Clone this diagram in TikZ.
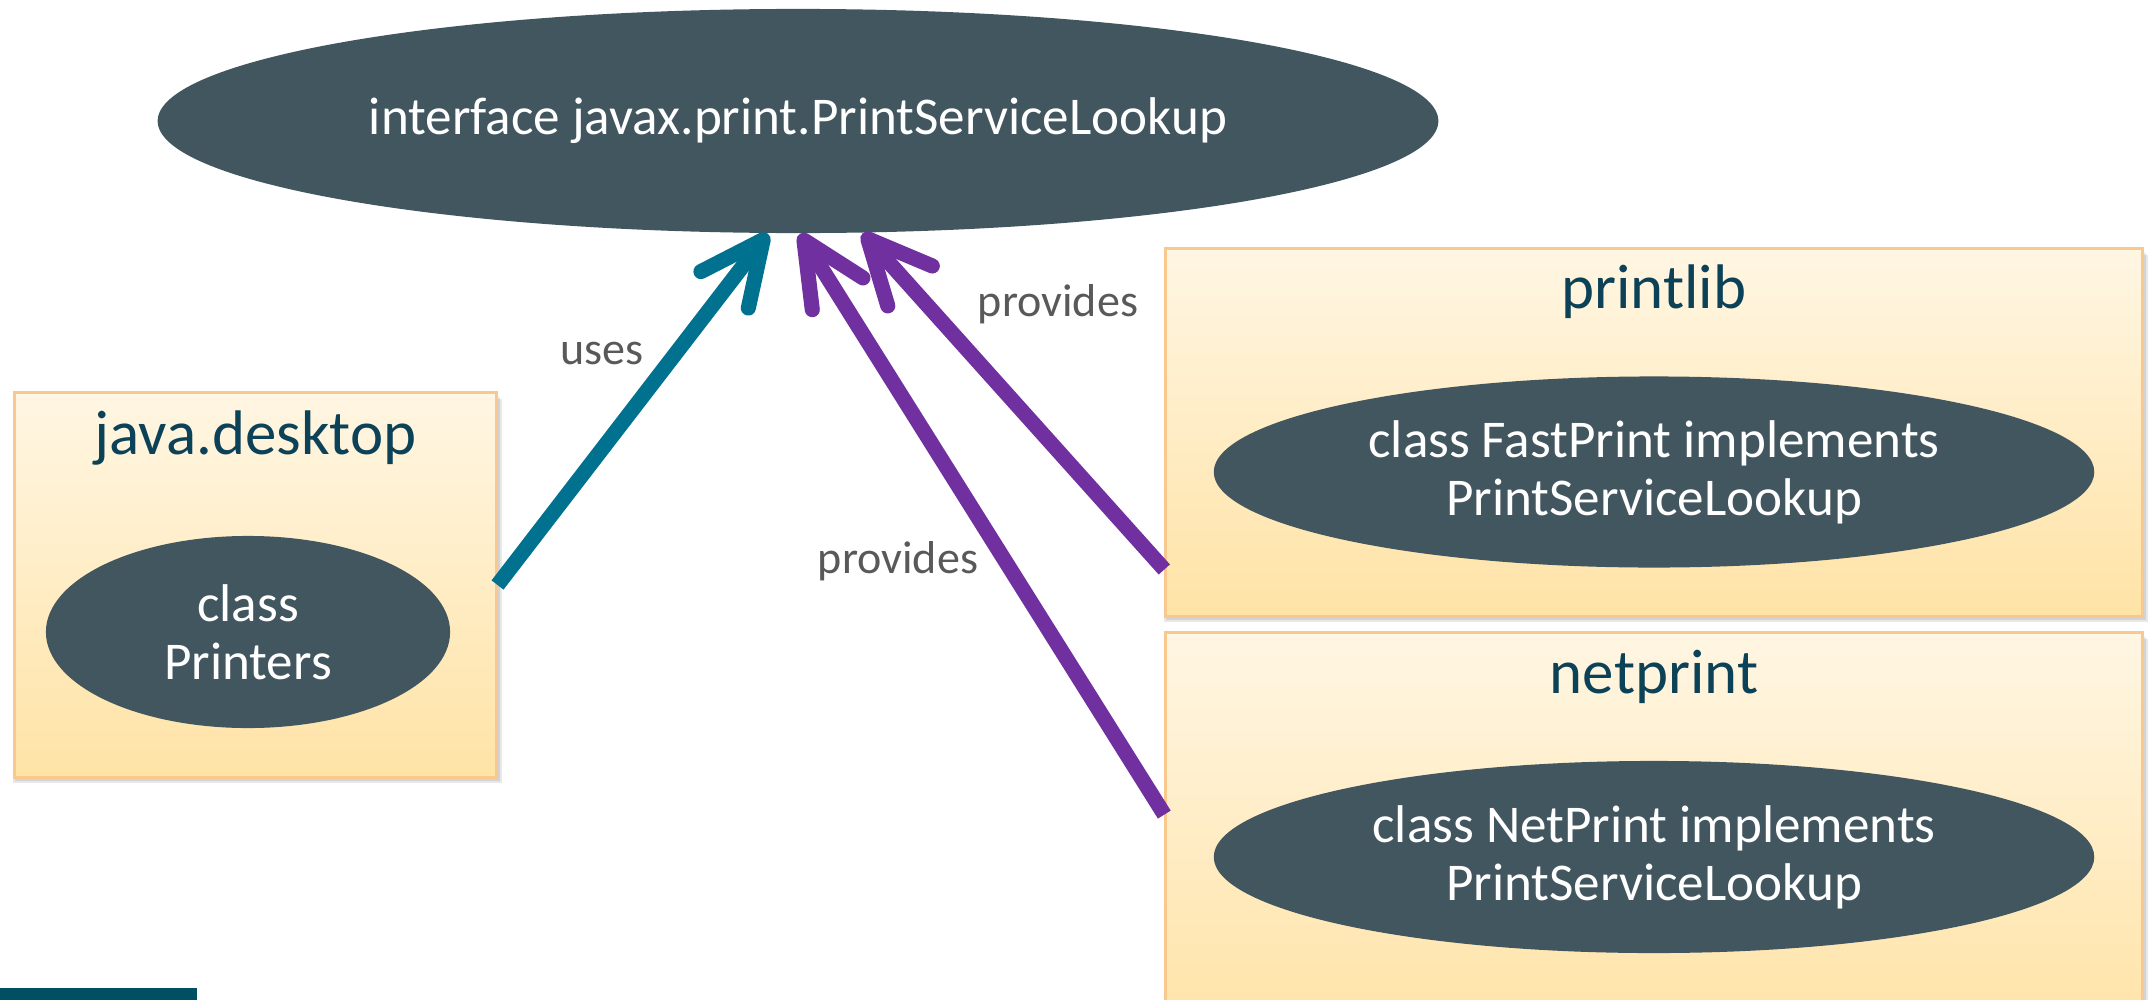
\documentclass[tikz,border=0pt]{standalone}
\usepackage{fontspec}
\setmainfont{Carlito}
\usetikzlibrary{shapes.geometric,arrows.meta}
\definecolor{ellfill}{HTML}{42565F}
\definecolor{usesclr}{HTML}{00718F}
\definecolor{provclr}{HTML}{7030A0}
\definecolor{boxtop}{HTML}{FFF6E3}
\definecolor{boxbot}{HTML}{FFE3A6}
\definecolor{boxline}{HTML}{F9C88E}
\definecolor{titleclr}{HTML}{0C4257}
\definecolor{lblclr}{HTML}{595959}
\definecolor{barclr}{HTML}{004F63}
\begin{document}
\begin{tikzpicture}[x=0.01cm,y=-0.01cm,
  modbox/.style={rectangle, draw=boxline, line width=0.8pt, top color=boxtop, bottom color=boxbot, inner sep=0pt},
  boxshadow/.style={fill=black, opacity=0.09},
  modtitle/.style={font=\fontsize{17.9}{21}\selectfont, text=titleclr, inner sep=0pt, anchor=base},
  cls/.style={ellipse, fill=ellfill, text=white, inner sep=0pt, align=center, font=\fontsize{15.1}{16.5}\selectfont},
  lbl/.style={text=lblclr, font=\fontsize{13.1}{15}\selectfont, inner sep=0pt, anchor=base},
  dep/.style={line width=4.3pt, -{Straight Barb[length=18pt,width=17pt,round]}}
]
\useasboundingbox (0,0) rectangle (2154,1000);
\clip (0,0) rectangle (2154,1000);

% soft shadows of the module boxes
\foreach \d in {2,4,6}{
  \fill[boxshadow] (15-\d+4,393+\d) rectangle (496+\d,777+\d);
  \fill[boxshadow] (1166-\d+4,249+\d) rectangle (2142+\d,616+\d);
  \fill[boxshadow] (1166-\d+4,633+\d) rectangle (2142+\d,1045);
}

% module boxes
\node[modbox, minimum width=4.81cm, minimum height=3.84cm] (jbox) at (255.5,585) {};
\node[modbox, minimum width=9.76cm, minimum height=3.67cm] (pbox) at (1654,432.5) {};
\node[modbox, minimum width=9.76cm, minimum height=4.07cm] (nbox) at (1654,836.5) {};

% titles
\node[modtitle] (jtitle) at ([yshift=-0.63cm]jbox.north) {java.desktop};
\node[modtitle] (ptitle) at ([yshift=-0.61cm]pbox.north) {printlib};
\node[modtitle] (ntitle) at ([yshift=-0.62cm]nbox.north) {netprint};

% class ellipses
\node[cls, minimum width=12.8cm, minimum height=2.24cm] (iface) at (798,121) {interface javax.print.PrintServiceLookup};
\node[cls, minimum width=4.04cm, minimum height=1.92cm] (printers) at (248,632) {class\\Printers};
\node[cls, minimum width=8.8cm, minimum height=1.91cm] (fast) at (1654,472) {class FastPrint implements\\PrintServiceLookup};
\node[cls, minimum width=8.8cm, minimum height=1.92cm] (net) at (1654,857) {class NetPrint implements\\PrintServiceLookup};

% connectors
\draw[dep, usesclr] (jbox.east) -- (iface.-105.5);
\draw[dep, provclr] ([yshift=0.48cm]pbox.south west) -- (iface.-60);
\draw[dep, provclr] ([yshift=-1.83cm]nbox.north west) -- (iface.-89);

% labels
\node[lbl] (luses) at (602,364) {uses};
\node[lbl] (lprov1) at (1058,316) {provides};
\node[lbl] (lprov2) at (898,573) {provides};

% bottom-left bar
\fill[barclr] (0,988) rectangle (197,1000);
\end{tikzpicture}
\end{document}
